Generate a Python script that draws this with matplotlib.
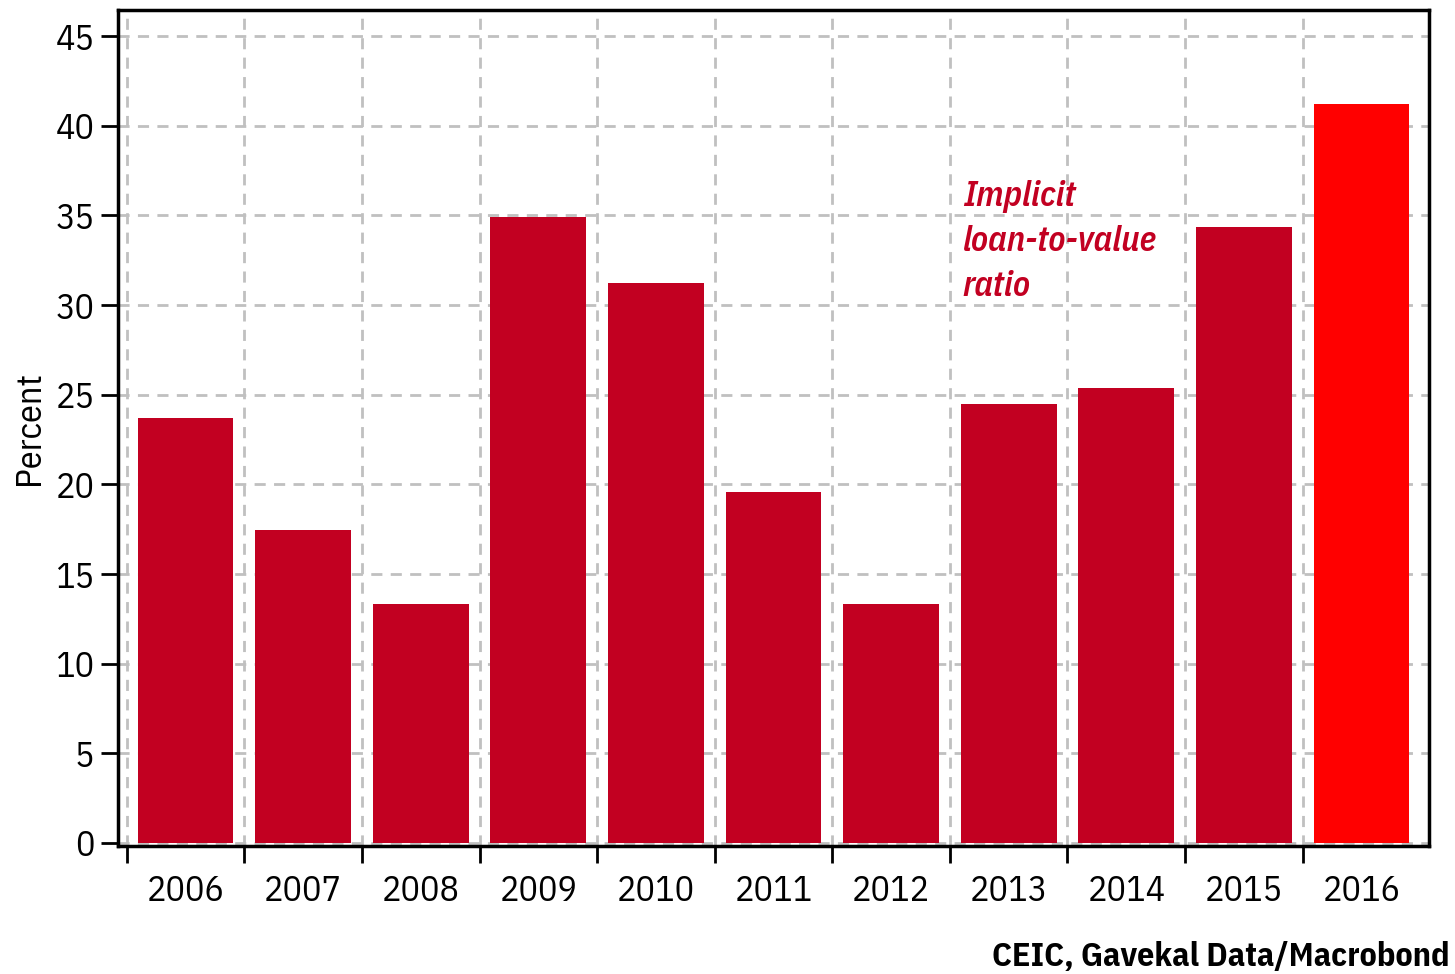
import matplotlib
matplotlib.use("Agg")
import matplotlib.pyplot as plt
import numpy as np

years = ["2006", "2007", "2008", "2009", "2010", "2011", "2012", "2013", "2014", "2015", "2016"]
values = [23.69, 17.46, 13.33, 34.93, 31.23, 19.56, 13.31, 24.47, 25.39, 34.36, 41.22]
yticks = [0, 5, 10, 15, 20, 25, 30, 35, 40, 45]

FONT = ["IBM Plex Sans Condensed", "DejaVu Sans"]
plt.rcParams['font.family'] = FONT

dark_red = "#C20021"
bright_red = "#FF0000"
colors = [dark_red] * (len(years) - 1) + [bright_red]

fig = plt.figure(figsize=(14.55, 9.74), dpi=100)
ax = fig.add_axes([118 / 1455, 1 - 846 / 974, (1429 - 118) / 1455, (846 - 10) / 974])

x = np.arange(len(years))
ax.bar(x, values, width=0.813, color=colors, edgecolor="none", zorder=3)

ax.set_xlim(-0.574, len(years) - 1 + 0.574)
ax.set_ylim(-0.17, 46.46)

ax.set_yticks(yticks)
ax.set_yticklabels([str(v) for v in yticks])
# ticks at boundaries, labels centered
ax.set_xticks(x - 0.5)
ax.set_xticklabels([])
ax.set_xticks(x, minor=True)
ax.set_xticklabels(years, minor=True)
ax.tick_params(axis="x", which="minor", length=0, labelsize=26, pad=20)
ax.tick_params(axis="x", which="major", length=12, width=2, direction="out")
ax.tick_params(axis="y", which="major", length=12, width=2, direction="out", labelsize=26, pad=5)

ax.grid(True, which="major", axis="both", color="#c0c0c0", linestyle=(0, (4, 3)), linewidth=2, zorder=0)
ax.set_axisbelow(True)

for s in ax.spines.values():
    s.set_linewidth(2.5)

ax.set_ylabel("Percent", fontsize=26, labelpad=7)

ax.text(6.61, 30.5, "Implicit\nloan-to-value\nratio", color=dark_red, fontsize=25,
        fontstyle="italic", fontweight=600, va="baseline", ha="left", linespacing=1.46, zorder=4)

fig.text(1450 / 1455, 1 - 966 / 974, "CEIC, Gavekal Data/Macrobond", fontsize=24.5, fontweight="bold",
         ha="right", va="baseline")

fig.savefig("out.png", dpi=100)
